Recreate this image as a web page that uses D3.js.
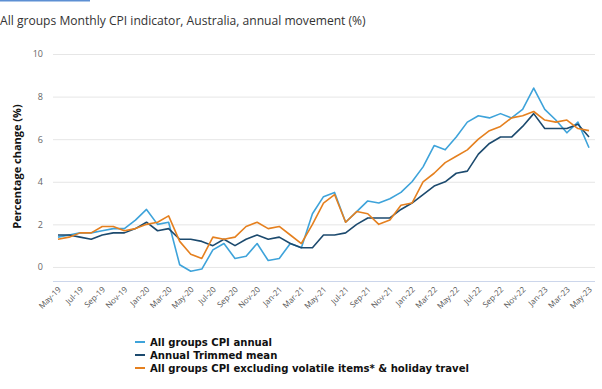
<!DOCTYPE html>
<html><head><meta charset="utf-8">
<script src="https://cdn.jsdelivr.net/npm/d3@7"></script>
<style>
html,body{margin:0;padding:0;background:#fff;}
svg{display:block;font-family:"Open Sans",sans-serif;}
</style></head>
<body><svg id="c" width="602" height="389"></svg>
<script>
const months = ["May-19","Jun-19","Jul-19","Aug-19","Sep-19","Oct-19","Nov-19","Dec-19",
"Jan-20","Feb-20","Mar-20","Apr-20","May-20","Jun-20","Jul-20","Aug-20","Sep-20","Oct-20","Nov-20","Dec-20",
"Jan-21","Feb-21","Mar-21","Apr-21","May-21","Jun-21","Jul-21","Aug-21","Sep-21","Oct-21","Nov-21","Dec-21",
"Jan-22","Feb-22","Mar-22","Apr-22","May-22","Jun-22","Jul-22","Aug-22","Sep-22","Oct-22","Nov-22","Dec-22",
"Jan-23","Feb-23","Mar-23","Apr-23","May-23"];
const tickLabels = ["May-19","Jul-19","Sep-19","Nov-19","Jan-20","Mar-20","May-20","Jul-20","Sep-20","Nov-20",
"Jan-21","Mar-21","May-21","Jul-21","Sep-21","Nov-21","Jan-22","Mar-22","May-22","Jul-22","Sep-22","Nov-22",
"Jan-23","Mar-23","May-23"];
const yTicks = [0,2,4,6,8,10];
const cpiAnnual = [1.4,1.5,1.6,1.6,1.7,1.8,1.8,2.2,2.7,2.0,2.1,0.1,-0.2,-0.1,0.8,1.1,0.4,0.5,1.1,0.3,
0.4,1.1,0.9,2.5,3.3,3.5,2.1,2.6,3.1,3.0,3.2,3.5,4.0,4.7,5.7,5.5,6.1,6.8,7.1,7.0,7.2,7.0,7.4,8.4,
7.4,6.9,6.3,6.8,5.6];
const trimmedMean = [1.5,1.5,1.4,1.3,1.5,1.6,1.6,1.8,2.1,1.7,1.8,1.3,1.3,1.2,1.0,1.3,1.0,1.3,1.5,1.3,
1.4,1.1,0.9,0.9,1.5,1.5,1.6,2.0,2.3,2.3,2.3,2.7,3.0,3.4,3.8,4.0,4.4,4.5,5.3,5.8,6.1,6.1,6.6,7.2,
6.5,6.5,6.5,6.7,6.1];
const exVolatile = [1.3,1.4,1.6,1.6,1.9,1.9,1.7,1.8,2.0,2.1,2.4,1.2,0.6,0.4,1.4,1.3,1.4,1.9,2.1,1.8,
1.9,1.5,1.1,2.0,3.0,3.4,2.1,2.6,2.5,2.0,2.2,2.9,3.0,4.0,4.4,4.9,5.2,5.5,6.0,6.4,6.6,7.0,7.1,7.3,
6.9,6.8,6.9,6.5,6.4];
const seriesNames = ["All groups CPI annual","Annual Trimmed mean","All groups CPI excluding volatile items* & holiday travel"];
const seriesColors = ["#3ea3da","#1c4a6e","#e5801f"];
const seriesData = [cpiAnnual, trimmedMean, exVolatile];

const svg = d3.select("#c");
const plotLeft = 53, plotRight = 595, plotTop = 54, plotBottom = 281;
const yMin = -0.66;

svg.append("rect").attr("x",0).attr("y",0).attr("width",90).attr("height",1.5).attr("fill","#5d8fd3");

svg.append("text").attr("x",0).attr("y",25)
  .attr("font-size",12.1).attr("fill","#333")
  .text("All groups Monthly CPI indicator, Australia, annual movement (%)");

const x = d3.scalePoint().domain(months).range([58, 589]);
const y = d3.scaleLinear().domain([yMin, 10]).range([plotBottom, plotTop]);

svg.append("g").selectAll("line").data(yTicks).join("line")
  .attr("x1",plotLeft).attr("x2",plotRight)
  .attr("y1",d=>y(d)+0.5).attr("y2",d=>y(d)+0.5)
  .attr("stroke","#e6e6e6").attr("stroke-width",1);

const yAxis = d3.axisLeft(y).tickValues(yTicks).tickSize(0).tickPadding(0).tickFormat(d3.format("d"));
const gy = svg.append("g").attr("transform",`translate(${43},0)`).call(yAxis);
gy.select(".domain").remove();
gy.selectAll("text").attr("font-size",9).attr("fill","#666").attr("font-family","'Open Sans',sans-serif");

const xAxis = d3.axisBottom(x).tickValues(tickLabels).tickSize(0).tickPadding(0);
const gx = svg.append("g").attr("transform",`translate(0,${plotBottom})`).call(xAxis);
gx.select(".domain").attr("d",`M${plotLeft},0.5H${plotRight}`).attr("stroke","#ccd6eb");
gx.selectAll("text").attr("font-size",8).attr("fill","#555")
  .attr("font-family","'Open Sans',sans-serif")
  .attr("text-anchor","end").attr("dy",null).attr("y",0)
  .attr("transform","translate(3,9) rotate(-45)");

svg.append("text").attr("transform",`translate(21,${(plotTop+plotBottom)/2 - 1}) rotate(-90)`)
  .attr("text-anchor","middle").attr("font-size",11).attr("font-weight","bold").attr("fill","#111")
  .text("Percentage change (%)");

const line = d3.line().x((d,i)=>x(months[i])).y(d=>y(d));
seriesData.forEach((s,k)=>{
  svg.append("path").datum(s).attr("d",line).attr("fill","none")
    .attr("stroke",seriesColors[k]).attr("stroke-width",1.6).attr("stroke-linejoin","round");
});

const lg = svg.append("g");
seriesNames.forEach((n,k)=>{
  const yy = 342 + k*13;
  lg.append("line").attr("x1",135).attr("x2",145).attr("y1",yy).attr("y2",yy)
    .attr("stroke",seriesColors[k]).attr("stroke-width",2);
  lg.append("text").attr("x",150).attr("y",yy+4).attr("font-size",10.1).attr("font-weight","bold")
    .attr("fill","#111").attr("font-family","'DejaVu Sans',sans-serif").text(n);
});
</script></body></html>
